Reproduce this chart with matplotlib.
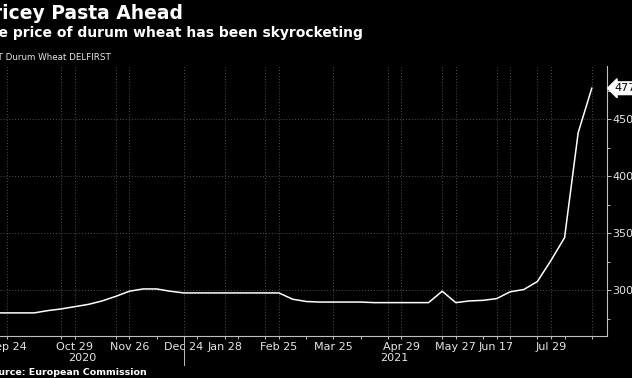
import numpy as np
import matplotlib as mpl
mpl.use('Agg')
import matplotlib.pyplot as plt
import matplotlib.transforms as mtransforms

mpl.rcParams['font.family'] = 'DejaVu Sans'

# weekly observations (index -1 is the point just left of the crop)
prices = [280, 280, 280, 280, 282, 283.5, 285.5, 287.5, 290.5, 294.5, 299,
          301, 301, 299, 297.5, 297.5, 297.5, 297.5, 297.5, 297.5, 297.5, 297.5,
          292, 290, 289.5, 289.5, 289.5, 289.5, 289, 289, 289, 289, 289,
          299, 289, 290.5, 291, 292.5, 298.5, 300.5, 307.5, 326, 346, 438, 477]
obs = np.arange(-1, len(prices) - 1)

tick_obs = [0, 5, 9, 13, 16, 20, 24, 29, 33, 36, 40]
tick_text = ['Sep 24', 'Oct 29', 'Nov 26', 'Dec 24', 'Jan 28', 'Feb 25',
             'Mar 25', 'Apr 29', 'May 27', 'Jun 17', 'Jul 29']
minor_obs = [4, 8, 11, 14, 17, 19, 22, 26, 28, 32, 35, 37, 39, 41, 43]
grid_obs = [0, 4, 5, 8, 9, 13, 16, 19, 20, 24, 28, 29, 32, 33, 36, 37, 39, 40, 43]
year_obs = [5.5, 28.5]
year_text = ['2020', '2021']
year_break = 13
last_price = prices[-1]

fg = '#e6e6e6'
W, H = 632, 378
fig = plt.figure(figsize=(W / 100, H / 100), dpi=100, facecolor='black')
ax = fig.add_axes([0, 1 - 335.7 / H, 607 / W, (335.7 - 66) / H])
ax.set_facecolor('black')

ax.plot(obs, prices, color='white', lw=1.1, zorder=3)

ax.set_xlim(-0.515, 44.12)
ax.set_ylim(260, 496.5)

for g in grid_obs:
    ax.axvline(g, color='#505050', lw=0.7, ls=(0, (1, 2)), zorder=1)
for v in [300, 350, 400, 450]:
    ax.axhline(v, color='#505050', lw=0.7, ls=(0, (1, 2)), zorder=1)

for s in ['left', 'top']:
    ax.spines[s].set_visible(False)
for s in ['bottom', 'right']:
    ax.spines[s].set_color('#bfbfbf')
    ax.spines[s].set_linewidth(0.8)

ax.set_xticks(tick_obs)
ax.set_xticklabels(tick_text)
ax.set_xticks(minor_obs, minor=True)
ax.tick_params(axis='x', which='both', direction='out', length=2.5, width=0.7,
               color='#bfbfbf', labelcolor=fg, labelsize=8, pad=2)

ax.yaxis.tick_right()
ax.set_yticks([300, 350, 400, 450])
ax.set_yticks([275, 325, 375, 425, 475], minor=True)
ax.tick_params(axis='y', which='major', direction='out', length=3, width=0.7,
               color='#bfbfbf', labelcolor=fg, labelsize=8, pad=1)
ax.tick_params(axis='y', which='minor', direction='out', length=2, width=0.7,
               color='#bfbfbf')

# year labels and year separator
ytr = ax.get_xaxis_transform()
for xo, t in zip(year_obs, year_text):
    ax.text(xo, -0.083, t, transform=ytr, ha='center', va='center',
            color=fg, fontsize=8)
ax.plot([year_break, year_break], [0, -0.108], transform=ytr, color='#bfbfbf',
        lw=0.7, clip_on=False)

# last value tag
btr = mtransforms.blended_transform_factory(ax.transAxes, ax.transData)
ax.text(1.012, last_price, str(last_price), transform=btr, ha='left', va='center',
        color='black', fontsize=8,
        bbox=dict(boxstyle='larrow,pad=0.12', fc='white', ec='white'))

fig.text(183 / W, 1 - 13.5 / H, 'Pricey Pasta Ahead', ha='right', va='center',
         color='white', fontsize=13.5, fontweight='bold')
fig.text(363 / W, 1 - 33 / H, 'The price of durum wheat has been skyrocketing',
         ha='right', va='center', color='white', fontsize=10, fontweight='bold')
fig.text(111 / W, 1 - 57 / H, 'EUR/MT Durum Wheat DELFIRST', ha='right',
         va='center', color=fg, fontsize=6.3)
fig.text(147 / W, 1 - 372.5 / H, 'Source: European Commission', ha='right',
         va='center', color='white', fontsize=6.8, fontweight='bold')

fig.savefig('out.png', dpi=100, facecolor='black')
